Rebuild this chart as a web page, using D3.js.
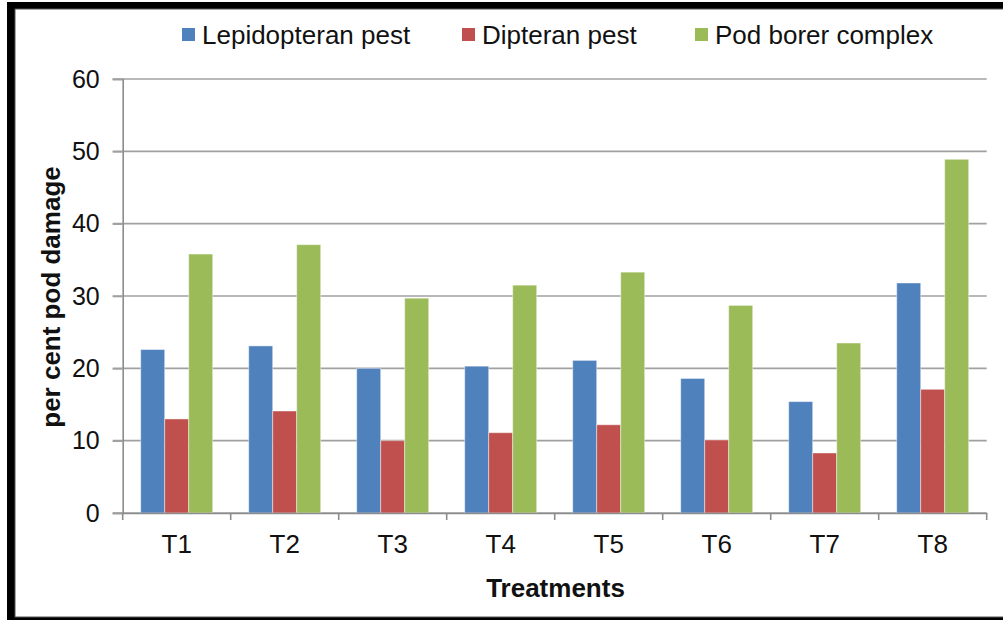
<!DOCTYPE html>
<html>
<head>
<meta charset="utf-8">
<script src="https://cdn.jsdelivr.net/npm/d3@7"></script>
<style>
  html, body { margin: 0; padding: 0; background: #fff; }
  svg { display: block; font-family: "Liberation Sans", Arial, sans-serif; }
</style>
</head>
<body>
<svg id="chart" width="1003" height="620"></svg>
<script>
// ---- data ----
const categories = ["T1", "T2", "T3", "T4", "T5", "T6", "T7", "T8"];
const seriesNames = ["Lepidopteran pest", "Dipteran pest", "Pod borer complex"];
const lepidopteran = [22.6, 23.1, 20.0, 20.3, 21.1, 18.6, 15.4, 31.8];
const dipteran     = [13.0, 14.1, 10.0, 11.1, 12.2, 10.1, 8.3, 17.1];
const podBorer     = [35.8, 37.1, 29.7, 31.5, 33.3, 28.7, 23.5, 48.9];
const yTicks = [0, 10, 20, 30, 40, 50, 60];
const colors = ["#4F81BD", "#C0504D", "#9BBB59"];

(function () {
const seriesValues = [lepidopteran, dipteran, podBorer];
const rows = categories.map((c, i) => ({
  cat: c,
  vals: seriesNames.map((s, j) => ({ series: s, value: seriesValues[j][i], idx: j }))
}));

const svg = d3.select("#chart");

// frame
svg.append("rect").attr("x", 7).attr("y", 2).attr("width", 1010).attr("height", 630).attr("fill", "#000");
svg.append("rect").attr("x", 15).attr("y", 9).attr("width", 1000).attr("height", 608).attr("fill", "#fff")
  .attr("stroke", "#555").attr("stroke-width", 1);

const pLeft = 122.7, pRight = 986.7, pTop = 79, pBottom = 513;

const x0 = d3.scaleBand().domain(categories).range([pLeft, pRight]).paddingInner(0).paddingOuter(0);
const x1 = d3.scaleBand().domain(seriesNames).range([0, x0.bandwidth()]).paddingInner(0).paddingOuter(0.75);
const y = d3.scaleLinear().domain([0, 60]).range([pBottom, pTop]);

// gridlines
svg.append("g").selectAll("line").data(yTicks).join("line")
  .attr("x1", pLeft - 10).attr("x2", pRight)
  .attr("y1", d => y(d)).attr("y2", d => y(d))
  .attr("stroke", "#a0a0a0").attr("stroke-width", 1.6);

// y axis
const yAxis = svg.append("g").attr("transform", `translate(${pLeft},0)`)
  .call(d3.axisLeft(y).tickValues(yTicks).tickSize(10).tickPadding(13).tickFormat(d3.format("d")));
yAxis.select(".domain").attr("stroke", "#8c8c8c").attr("stroke-width", 1.6);
yAxis.selectAll(".tick line").attr("stroke", "#a0a0a0").attr("stroke-width", 1.6);
yAxis.selectAll("text").attr("font-size", 25).attr("fill", "#111").attr("font-family", "Liberation Sans, Arial, sans-serif");

// bars
const groups = svg.append("g").selectAll("g").data(rows).join("g")
  .attr("transform", d => `translate(${x0(d.cat)},0)`);
groups.selectAll("rect").data(d => d.vals).join("rect")
  .attr("x", d => x1(d.series))
  .attr("width", x1.bandwidth())
  .attr("y", d => y(d.value))
  .attr("height", d => y(0) - y(d.value))
  .attr("fill", d => colors[d.idx])
  .attr("stroke", "rgba(255,255,255,0.45)")
  .attr("stroke-width", 1);

// x axis
const xAxis = svg.append("g").attr("transform", `translate(0,${pBottom})`)
  .call(d3.axisBottom(x0).tickSize(0).tickPadding(22));
xAxis.select(".domain").attr("stroke", "#8c8c8c").attr("stroke-width", 1.6);
xAxis.selectAll("text").attr("font-size", 26).attr("fill", "#111").attr("font-family", "Liberation Sans, Arial, sans-serif");
const bounds = categories.map(c => x0(c)).concat([pRight]);
xAxis.append("g").selectAll("line").data(bounds).join("line")
  .attr("x1", d => d).attr("x2", d => d).attr("y1", 0).attr("y2", 7)
  .attr("stroke", "#8c8c8c").attr("stroke-width", 1.6);

// axis titles
svg.append("text").attr("x", 555.5).attr("y", 596.5).attr("text-anchor", "middle")
  .attr("font-size", 26).attr("font-weight", "bold").attr("fill", "#111").text("Treatments");
svg.append("text").attr("transform", "translate(60,297) rotate(-90)").attr("text-anchor", "middle")
  .attr("font-size", 26).attr("font-weight", "bold").attr("fill", "#111").text("per cent pod damage");

// legend
const legendX = [182, 462, 695];
const legend = svg.append("g").selectAll("g").data(seriesNames).join("g")
  .attr("transform", (d, i) => `translate(${legendX[i]},0)`);
legend.append("rect").attr("x", 0).attr("y", 28).attr("width", 13).attr("height", 13)
  .attr("fill", (d, i) => colors[i]);
legend.append("text").attr("x", 20).attr("y", 43.5).attr("font-size", 26).attr("fill", "#111").text(d => d);
})();
</script>
</body>
</html>
